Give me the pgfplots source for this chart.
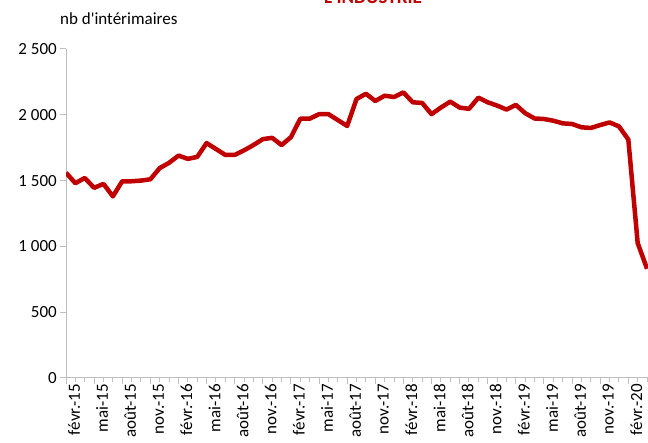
\documentclass[border=0pt]{standalone}
\usepackage{fontspec}
\setmainfont{Carlito}
\usepackage{pgfplots}
\usepackage{pgfplotstable}
\pgfplotsset{compat=1.18}
\definecolor{linered}{HTML}{C00000}
\definecolor{axgray}{HTML}{BFBFBF}
\pgfplotstableread{
i v
0 1560
1 1480
2 1520
3 1445
4 1475
5 1380
6 1495
7 1495
8 1500
9 1510
10 1595
11 1635
12 1690
13 1665
14 1680
15 1785
16 1740
17 1695
18 1695
19 1730
20 1770
21 1815
22 1825
23 1770
24 1830
25 1970
26 1970
27 2005
28 2005
29 1960
30 1915
31 2120
32 2160
33 2105
34 2145
35 2135
36 2170
37 2095
38 2090
39 2005
40 2055
41 2100
42 2055
43 2045
44 2130
45 2095
46 2070
47 2040
48 2075
49 2012
50 1972
51 1968
52 1955
53 1935
54 1930
55 1905
56 1900
57 1922
58 1942
59 1912
60 1812
61 1025
62 830
}\data
\begin{document}
\begin{tikzpicture}[x=1pt,y=1pt]
\useasboundingbox (0,0) rectangle (648,443);
\clip (0,0) rectangle (648,443);
\node[anchor=base, text=linered, font=\bfseries\fontsize{19}{22}\selectfont] at (373,439) {L\textquotesingle INDUSTRIE};
\node[anchor=base west, inner sep=0pt, font=\fontsize{17}{20}\selectfont] at (60,418) {nb d\textquotesingle intérimaires};
\begin{axis}[
  at={(66pt,65pt)}, anchor=south west,
  scale only axis, width=582pt, height=329pt,
  xmin=0, xmax=62.1, ymin=0, ymax=2500,
  axis x line*=bottom, axis y line*=left,
  axis line style={axgray, line width=1pt},
  tick align=outside,
  major tick length=6pt, minor tick length=4pt,
  every tick/.style={axgray, line width=1pt},
  xtick={0,3,...,60}, minor xtick={0,...,62},
  xticklabels={févr.-15,mai-15,août-15,nov.-15,févr.-16,mai-16,août-16,nov.-16,févr.-17,mai-17,août-17,nov.-17,févr.-18,mai-18,août-18,nov.-18,févr.-19,mai-19,août-19,nov.-19,févr.-20},
  ytick={0,500,1000,1500,2000,2500},
  yticklabels={0,500,{1 000},{1 500},{2 000},{2 500}},
  xticklabel style={rotate=90, anchor=east, inner sep=0pt, yshift=-8pt, font=\fontsize{17}{20}\selectfont, text=black},
  yticklabel style={anchor=east, inner sep=0pt, xshift=-3pt, font=\fontsize{17}{20}\selectfont, text=black},
]
\addplot[linered, line width=4.5pt, line join=round, no markers] table[x=i, y=v] {\data};
\end{axis}
\end{tikzpicture}
\end{document}
